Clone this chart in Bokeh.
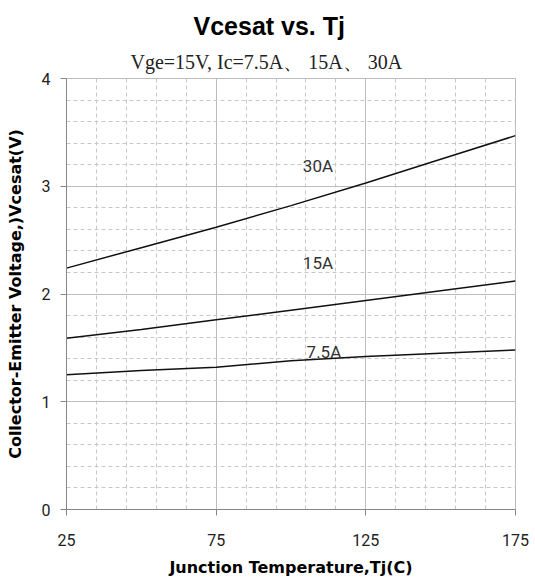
from bokeh.plotting import figure
from bokeh.models import FixedTicker, Title, Range1d
from bokeh.core.properties import value
from bokeh.embed import file_html
from bokeh.resources import INLINE

# Data
tj = [25, 50, 75, 100, 125, 150, 175]
v_30a = [2.24, 2.43, 2.62, 2.82, 3.03, 3.25, 3.47]
v_15a = [1.59, 1.67, 1.76, 1.85, 1.94, 2.03, 2.12]
v_7a5 = [1.25, 1.29, 1.32, 1.38, 1.42, 1.45, 1.48]
curve_names = ["30A", "15A", "7.5A"]
label_x = [109, 109, 111]
label_y = [3.19, 2.29, 1.46]
x_ticks = [25, 75, 125, 175]
x_minor = [35, 45, 55, 65, 85, 95, 105, 115, 135, 145, 155, 165]
y_ticks = [0, 1, 2, 3, 4]
y_minor = [0.2, 0.4, 0.6, 0.8, 1.2, 1.4, 1.6, 1.8, 2.2, 2.4, 2.6, 2.8, 3.2, 3.4, 3.6, 3.8]

p = figure(width=535, height=587, output_backend="svg", toolbar_location=None,
           x_range=Range1d(25, 175), y_range=Range1d(0, 4),
           min_border_left=66, min_border_right=20, min_border_top=78, min_border_bottom=78)
p.outline_line_color = "#bdbdbd"
p.background_fill_color = "white"
p.border_fill_color = "white"

sub = Title(text="Vge=15V, Ic=7.5A\u3001 15A\u3001 30A", align="left",
            text_font="Liberation Serif", text_font_size="20px",
            text_font_style="normal", text_color="#222222", offset=64, standoff=12)
main = Title(text="Vcesat vs. Tj", align="left",
             text_font="Liberation Sans", text_font_size="25px",
             text_font_style="bold", text_color="#000000", offset=127, standoff=6)
p.add_layout(sub, "above")
p.add_layout(main, "above")

xt = FixedTicker(ticks=x_ticks, minor_ticks=x_minor)
yt = FixedTicker(ticks=y_ticks, minor_ticks=y_minor)
p.xaxis.ticker = xt
p.yaxis.ticker = yt

for ax in (p.xaxis, p.yaxis):
    ax.axis_line_color = "#868686"
    ax.major_tick_line_color = "#868686"
    ax.major_tick_in = 0
    ax.major_tick_out = 6
    ax.minor_tick_in = 0
    ax.minor_tick_out = 0
    ax.major_label_text_font = "Roboto"
    ax.major_label_text_font_size = "16px"
    ax.major_label_text_color = "#222222"
    ax.axis_label_text_font = "DejaVu Sans"
    ax.axis_label_text_font_style = "bold"
    ax.axis_label_text_font_size = "16px"
    ax.axis_label_text_color = "#000000"

p.xaxis.axis_label = "Junction Temperature,Tj(C)"
p.yaxis.axis_label = "Collector-Emitter Voltage,)Vcesat(V)"
p.xaxis.major_label_standoff = 18
p.xaxis.axis_label_standoff = 9
p.yaxis.major_label_standoff = 10
p.yaxis.axis_label_standoff = 14

for g in (p.xgrid, p.ygrid):
    g.grid_line_color = "#bdbdbd"
    g.grid_line_width = 1
    g.minor_grid_line_color = "#c8c8c8"
    g.minor_grid_line_dash = "4 3"
    g.minor_grid_line_width = 1

for ys in (v_30a, v_15a, v_7a5):
    p.line(tj, ys, line_color="#111111", line_width=1.5)

p.text(x=label_x, y=label_y, text=curve_names, text_font=value("Roboto"),
       text_font_size="17px", text_color="#333333", text_align="center",
       text_baseline="middle")

open("out.html", "w").write(file_html(p, INLINE))
